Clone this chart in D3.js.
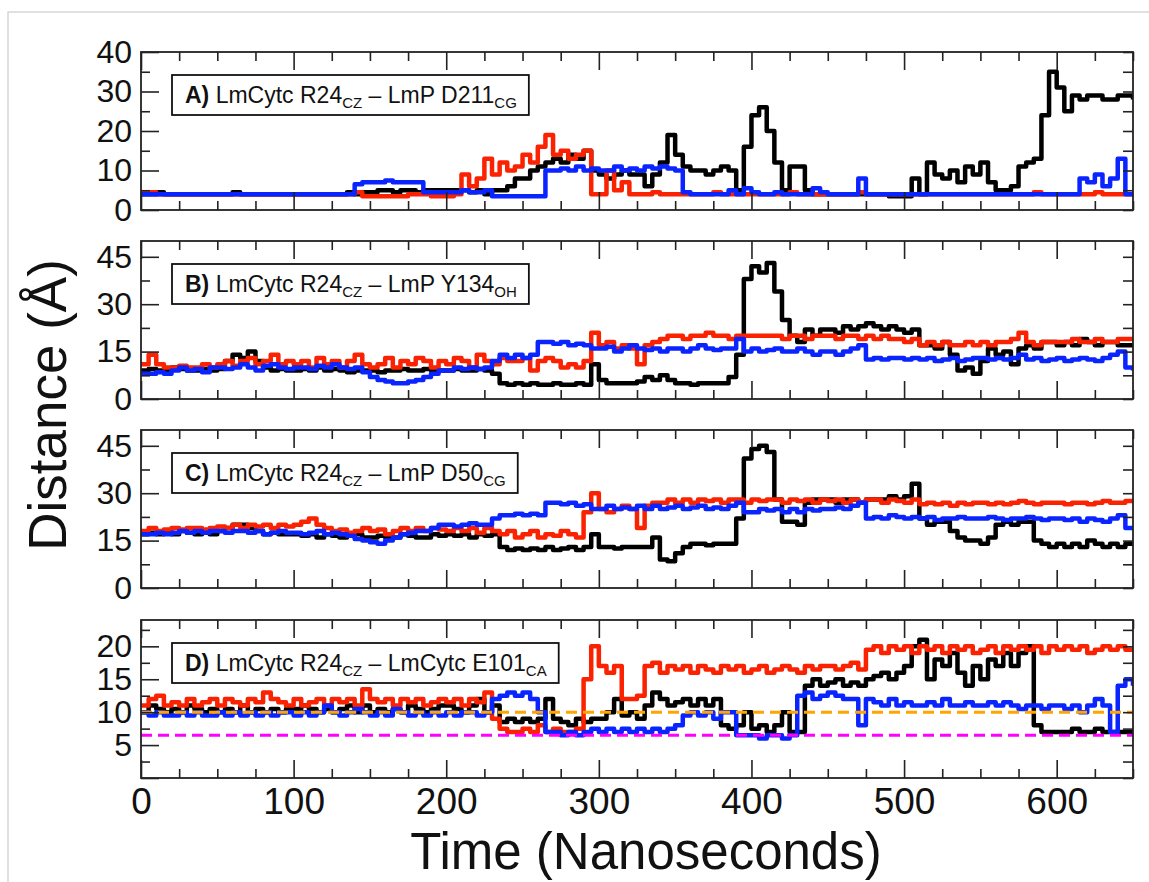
<!DOCTYPE html>
<html>
<head>
<meta charset="utf-8">
<script src="https://cdn.jsdelivr.net/npm/d3@7"></script>
<style>
  body { margin: 0; background: #fff; }
</style>
</head>
<body>
<svg id="chart" width="1149" height="882"></svg>
<script>
// sampled every 5 ns, 0..650
const timeNs = d3.range(0, 651, 5);

// A) R24 CZ - D211 CG
const aBlack = [4,4,4.5,4,4,4,4,4,4,4, 4,4,4.5,4,4,4,4,4,4,4, 4,4,4,4,4,4,4,4.5,4,4.5,
  4.5,5,5,4.5,5,5,4.5,5,5,5, 5,5,5,4.5,5,4,5,5,6,8, 8,10,11,12,13,12,14,13,15,10,
  9,8,9,10,9,9,6,9,12,19, 14,11,10,10,9,10,11,10,5,16, 24,26,20,12,5,11,11,5,4,4,
  4,4,4,4,4,4,4,4,3.5,3.5, 3.5,8,4,12,9,8,10,7,11,9, 12,7,5,5,6,11,12,13,24,35,
  31,25,29,28,29,29,28,28,29,29, 28];
const aRed = [4.5,4.5,4,4,4,4,4,4,4,4, 4,4,4,4,4,4,4,4,4,4, 4,4,4,4,4,4,4,4,4.5,3.5,
  3.5,3.5,3.5,3.5,3.5,4,4,4,3.5,3.5, 3.5,4,9,6,8,13,9,12,10,11, 14,12,16,19,14,15,13,14,15,4,
  4,10,5,7,4,4,4,4.5,4,4, 4,4,4,4,4,4.5,4,4,4,4, 4,4,4,4,4,4.5,4,4,4,4,
  4,4,4,4,4.5,4,4,4,4,4, 4,4,4,4,4,4,4,4,4,4, 4,4,4,4,4,4,4,4.5,4,4,
  4,4,4,4,4,4.5,4,4,4,4, 4];
const aBlue = [4,4,4,4,4,4,4,4,4,4, 4,4,4,4,4,4,4,4,4,4, 4,4,4,4,4,4,4,4,6.5,7,
  7,7,7.5,7,7,7,7,4.5,4.5,4.5, 4.5,4.5,5,4.5,4.5,5,3.5,3.5,3.5,3.5, 3.5,3.5,3.5,10,10,10.5,10,11,10,10.5,
  10,10,11,10,10.5,10,11,10.5,11,10.5, 10,4.5,4,4,4,4,4,5,4,5.5, 4.5,4,4,4.5,4,4,4,4,5.5,4.5,
  4,4,4,4,8,4,4,4,4,4, 4,4,4,4,4,4,4,4,4,4, 4,4,4,4,4,4,4,4,4,4,
  4,4,4,8,7,9,6,8,13,4, 4];

// B) R24 CZ - Y134 OH
const bBlack = [9,9.5,9,9,10,9.5,9,9,9.5,9, 9.5,12,14,13,15,12,10,9,9.5,9, 9,9.5,9,10,9,9.5,9,8.5,9,9,
  9,8.5,9,9,9.5,9,9,9.5,9,9, 9,9.5,9,9,9.5,9,8,5,4.5,5, 4.5,5,4.5,4.5,5,4.5,4.5,5,4.5,11,
  6,5,5,5,5,5.5,7,6,7.5,6, 5,5,4.5,5,5,5,5,7,14,38, 42,40,43,34,25,20,18,22,20,22,
  22,21,23,22,23,24,23,22,23,22, 21,22,17,17,16,18,14,9,10,8, 12,16,14,15,11,16,17,16,18,18,
  17,18,17,19,18,17,18,18,17,17, 17];
const bRed = [11,14,11,10,10,10.5,10,10,11,10, 11,12,10.5,12,13,11,12,14,11,12, 11,12,10,13,11,12,10,12,14,11,
  10,11,13,10,12,11,13,12,10,12, 11,13,12,10,14,12,11,13,12,12, 13,9,12,13,12,10,11,10,12,21,
  17,18,16,17,16,11,17,18,19,20, 20,19,20,20,21,20,20,19,20,20, 20,20,20,20,19,20,20,19,20,20,
  20,19,20,20,19,20,19,20,19,19, 18,19,17,18,17,18,17,17,18,17, 18,17,18,18,19,21,18,17,18,18,
  18,18,19,18,18,19,18,18,19,19, 19];
const bBlue = [8,8,8.5,8,9,10,9,9.5,8.5,10, 10,9.5,10,11,10,9,10.5,11,10,9.5, 10,10,9.5,10.5,10,11,10,9.5,10,8.5,
  7,6,5.5,5,5,5.5,6,7,8,9, 9,10,9.5,10,9.5,10,12,14,13,14, 13,14,18,18,17.5,18,17,17.5,17,16,
  16,16.5,15,16,17,16,15.5,16,15,16, 16,15,16,17,16,15.5,16,16,19,15, 16,15,15.5,16,15,15,16,15,14,15,
  15,14,15,16,17,12.5,13,12.5,13,13, 12.5,13,12.5,13,12,12.5,13,12,12.5,13, 13,12.5,13,12.5,13,14,12.5,13,12,12.5,
  13,12,12.5,13,12.5,12,13,14,15,10, 9];

// C) R24 CZ - D50 CG
const cBlack = [17,17.5,17,18,17,18,17.5,17,18,17, 18,19,20,20,19,18,17,17.5,17,17, 17,16.5,17,16,17,16.5,16,16.5,17,16,
  16,16.5,16,16,17,16.5,16,16,17,16.5, 17,16.5,17,16,17,16.5,17,13,12,12.5, 12,12.5,12,13,12,12.5,13,12,13,17,
  13,13,12.5,13,13,13,13,16,9,8.5, 11,13,14,14,13.5,14,14,14,22,41, 44,45,43,28,21,21,20,27,28,28,
  28,27,28,28,27,28,28,28,29,28, 29,33,22,20,21,21,18,16,15,15, 14,16,20,21,20,21,21,15,14,13,
  14,13,14,13,15,14,13,14,13,14, 14];
const cRed = [18,19,18,18.5,19,18.5,19,19,18.5,19, 19.5,19,20,19,20,19.5,20,19,20,19.5, 20,21,22,20,19,18,18.5,17.5,18,19,
  18,18.5,17,18,19,18,19,18,19,18.5, 18,19,18,19,17.5,19,18,17,18,16, 17,18,16,17,16.5,18,17,16,24,30,
  25,24,25,26,25,19,26,27,27,28, 27,28,27,28,27.5,28,27,28,28,27, 28,27.5,28,28,27,28,27.5,28,27,28,
  27.5,28,27,28,27,28,28,27,28,27.5, 27,28,26.5,27,26.5,27,26,27,26.5,27, 27,26.5,27,26.5,27,27.5,27,26.5,27,27,
  27,26.5,27,27,26.5,27,27.5,27,27,27.5, 27.5];
const cBlue = [17,17,17.5,17,17.5,18,17.5,18,17.5,18, 18,17.5,18,18,17.5,18,17,17.5,18,17.5, 17.5,17,17.5,18,17,17.5,17,16.5,15.5,15,
  14.5,14,15,16,17,17.5,18,18,19,20, 20,19.5,20,20.5,20,20,22,23,23,23.5, 23,23.5,23,27,27,26.5,27,26,26.5,25,
  25,26,25,25.5,25,26,25,26,25,25.5, 26,25,25.5,26,25,25.5,25,26,27,24, 24,25,24.5,25,24,25,24,25,24.5,25,
  25,25.5,25,26,27,22,22.5,22,23,22.5, 22,22.5,22,22.5,21.5,22,22,22.5,22,22, 22,22.5,22,21.5,22,22,22.5,22,21.5,22,
  22,21.5,22,21,22,21.5,21,22,23,19, 19];

// D) R24 CZ - E101 CA
const dBlack = [10,11,10.5,10,10.5,10,11,10.5,10,10.5, 10,10.5,10,11,10,10.5,10,10.5,10,10.5, 10.5,11,10.5,10,10.5,10,10.5,11,10,11,
  10,10.5,10,10.5,10,11,10.5,10,10.5,11, 11,10.5,10,11,12,10,11,8.5,9,8.5, 9,8.5,9,12,9,8.5,8,9,8.5,9,
  9,10,12,9.5,10,9,11,13,12,11, 11.5,12,11,12,11,12,8,7.5,8,10, 7.5,8,7,8,10,7,7,14,15,14,
  14.5,15,14,14.5,14,15,15.5,16,15,16, 17,20,21,15,18,17,19,16,14,17, 15,18,17,19,17,19,20,8,7,7,
  7,7,7.5,7,7,7.5,7,7,7,7, 7];
const dRed = [11,12,12.5,11,11.5,11,12,11,11.5,12, 11,12,11.5,11,12,11.5,13,12,11.5,11, 12,11,11.5,12,11,12,11.5,12,11,13.5,
  12,11.5,12,11,12,11.5,12,11,11.5,12, 11.5,12,11,12,11.5,13,9,7.5,7,7, 7.5,7,8,7,7.5,7,7,7.5,15,20,
  17,16,17,12,12,12.5,17,17.5,16,17, 16.5,17,16,17,16.5,16,17,16.5,17,16, 16.5,17,16,16.5,17,16.5,16,17,16.5,17,
  17,16.5,17,17.5,16.5,19.5,20,19,20,19.5, 20,19,20,19.5,20,19,20,19.5,20,19, 19.5,20,19,20,19.5,20,19.5,20,19,20,
  19.5,20,19.5,20,19,19.5,20,19.5,20,19.5, 19.5];
const dBlue = [10,9.5,10,9.5,9.5,10,9.5,10,9.5,9.5, 10,9.5,10,9.5,10,9.5,10,9.5,10,10, 9.5,10,9.5,10,11,10,9.5,10,10.5,10,
  9.5,10,9.5,10.5,10,9.5,10,9.5,10,9.5, 10,9.5,10,10,9.5,10,12,12.5,13,12.5, 13,12,10,7,7,6.5,7,6.5,7,7.5,
  7,7.5,7,7.5,7,7.5,7,7.5,7,7.5, 8,9.5,10,9.5,10,9,10,10,6.5,6.5, 6.5,6,6.5,6.5,6,6.5,12.5,13,12,12.5,
  13,12.5,12,12,8,12,11.5,11,12,11, 11.5,11,11,11.5,11,12,11,11,11.5,11, 11,11.5,11,11.5,11,10.5,11,11,10.5,11,
  11,10.5,11,10,11,12,11,7,14,15, 14];

// reference levels in panel D
const refValues = [10, 6.5];
const refColors = ["#ffa500", "#ff00ff"];

const seriesColors = ["#000000", "#fa2200", "#0a24ff"];
const xMajor = [0, 100, 200, 300, 400, 500, 600];
const xMinor = d3.range(0, 651, 25).filter(v => v % 100 !== 0);

const panels = [
  { tag: "A)", parts: [[" LmCytc R24"], ["CZ", 1], [" \u2013 LmP D211"], ["CG", 1]],
    domain: [0, 40], major: [0, 10, 20, 30, 40], minor: [5, 15, 25, 35], series: [aBlack, aRed, aBlue] },
  { tag: "B)", parts: [[" LmCytc R24"], ["CZ", 1], [" \u2013 LmP Y134"], ["OH", 1]],
    domain: [0, 50], major: [0, 15, 30, 45], minor: [7.5, 22.5, 37.5], series: [bBlack, bRed, bBlue] },
  { tag: "C)", parts: [[" LmCytc R24"], ["CZ", 1], [" \u2013 LmP D50"], ["CG", 1]],
    domain: [0, 50], major: [0, 15, 30, 45], minor: [7.5, 22.5, 37.5], series: [cBlack, cRed, cBlue] },
  { tag: "D)", parts: [[" LmCytc R24"], ["CZ", 1], [" \u2013 LmCytc E101"], ["CA", 1]],
    domain: [0, 24], major: [0, 5, 10, 15, 20], minor: [2.5, 7.5, 12.5, 17.5, 22.5], series: [dBlack, dRed, dBlue],
    hideZero: true, refs: true }
];

const FONT = "Liberation Sans, Arial, Helvetica, sans-serif";
const panelTops = [52, 241, 430, 620];
const panelH = 158;

const svg = d3.select("#chart");
const x = d3.scaleLinear().domain([0, 650]).range([141, 1133]);

// faint figure border (top/left)
svg.append("path")
  .attr("d", "M8,882V12H1149")
  .attr("fill", "none")
  .attr("stroke", "#d6d6d6")
  .attr("stroke-width", 1.5);

function styleAxis(g, size) {
  g.select(".domain").remove();
  g.selectAll("line").attr("stroke", "#222").attr("stroke-width", 1.6);
  g.attr("font-family", FONT).attr("font-size", size);
  g.selectAll("text").attr("fill", "#111");
}

panels.forEach((p, i) => {
  const top = panelTops[i];
  const bottom = top + panelH;
  const y = d3.scaleLinear().domain(p.domain).range([bottom, top]);
  const g = svg.append("g").attr("class", "panel");

  g.append("clipPath").attr("id", "clip" + i)
    .append("rect").attr("x", x(0)).attr("y", top).attr("width", x(650) - x(0)).attr("height", panelH);

  const line = d3.line()
    .x((d, j) => x(timeNs[j]))
    .y(d => y(d))
    .curve(d3.curveStepAfter);

  g.append("g").attr("clip-path", "url(#clip" + i + ")")
    .selectAll("path.trace")
    .data(p.series)
    .join("path")
    .attr("class", "trace")
    .attr("d", line)
    .attr("fill", "none")
    .attr("stroke", (d, k) => seriesColors[k])
    .attr("stroke-width", 4.5)
    .attr("stroke-linejoin", "round");

  if (p.refs) {
    g.selectAll("line.ref")
      .data(refValues)
      .join("line")
      .attr("class", "ref")
      .attr("x1", x(0)).attr("x2", x(650))
      .attr("y1", d => y(d)).attr("y2", d => y(d))
      .attr("stroke", (d, k) => refColors[k])
      .attr("stroke-width", 3)
      .attr("stroke-dasharray", "11,6");
  }

  // frame
  g.append("rect")
    .attr("x", x(0)).attr("y", top)
    .attr("width", x(650) - x(0)).attr("height", panelH)
    .attr("fill", "none").attr("stroke", "#222").attr("stroke-width", 1.8);

  // x ticks, bottom and top, pointing inward
  const isLast = i === panels.length - 1;
  g.append("g").attr("transform", `translate(0,${bottom})`)
    .call(d3.axisBottom(x).tickValues(xMinor).tickSize(-9).tickFormat(""))
    .call(a => styleAxis(a, 10));
  g.append("g").attr("transform", `translate(0,${bottom})`)
    .call(d3.axisBottom(x).tickValues(xMajor).tickSize(-18).tickPadding(10)
      .tickFormat(isLast ? d3.format("d") : ""))
    .call(a => styleAxis(a, 37));
  g.append("g").attr("transform", `translate(0,${top})`)
    .call(d3.axisTop(x).tickValues(xMinor).tickSize(-9).tickFormat(""))
    .call(a => styleAxis(a, 10));
  g.append("g").attr("transform", `translate(0,${top})`)
    .call(d3.axisTop(x).tickValues(xMajor).tickSize(-18).tickFormat(""))
    .call(a => styleAxis(a, 10));

  // y ticks, left and right
  g.append("g").attr("transform", `translate(${x(0)},0)`)
    .call(d3.axisLeft(y).tickValues(p.minor).tickSize(-9).tickFormat(""))
    .call(a => styleAxis(a, 10));
  g.append("g").attr("transform", `translate(${x(0)},0)`)
    .call(d3.axisLeft(y).tickValues(p.major).tickSize(-18).tickPadding(9)
      .tickFormat(d => (p.hideZero && d === 0) ? "" : d))
    .call(a => styleAxis(a, 32));
  g.append("g").attr("transform", `translate(${x(650)},0)`)
    .call(d3.axisRight(y).tickValues(p.major.concat(p.minor)).tickSize(-10).tickFormat(""))
    .call(a => styleAxis(a, 10));

  // label box
  const boxY = top + 23;
  const box = g.append("rect")
    .attr("x", 172).attr("y", boxY).attr("height", 40)
    .attr("fill", "#fff").attr("stroke", "#111").attr("stroke-width", 1.8);
  const lab = g.append("text")
    .attr("x", 185).attr("y", boxY + 28)
    .attr("font-family", FONT).attr("font-size", 23).attr("fill", "#111");
  lab.append("tspan").attr("font-weight", "bold").text(p.tag);
  let sub = false;
  p.parts.forEach(([txt, isSub]) => {
    const t = lab.append("tspan").text(txt);
    if (isSub) { t.attr("font-size", 15).attr("dy", 5); sub = true; }
    else if (sub) { t.attr("dy", -5); sub = false; }
  });
  const bb = lab.node().getBBox();
  box.attr("width", bb.x + bb.width + 12 - 172);
});

// axis titles
svg.append("text")
  .attr("x", 646).attr("y", 869)
  .attr("text-anchor", "middle")
  .attr("font-family", FONT).attr("font-size", 51).attr("fill", "#111")
  .text("Time (Nanoseconds)");

svg.append("text")
  .attr("transform", "translate(66,405) rotate(-90)")
  .attr("text-anchor", "middle")
  .attr("font-family", FONT).attr("font-size", 53).attr("fill", "#111")
  .text("Distance (\u00c5)");
</script>
</body>
</html>
